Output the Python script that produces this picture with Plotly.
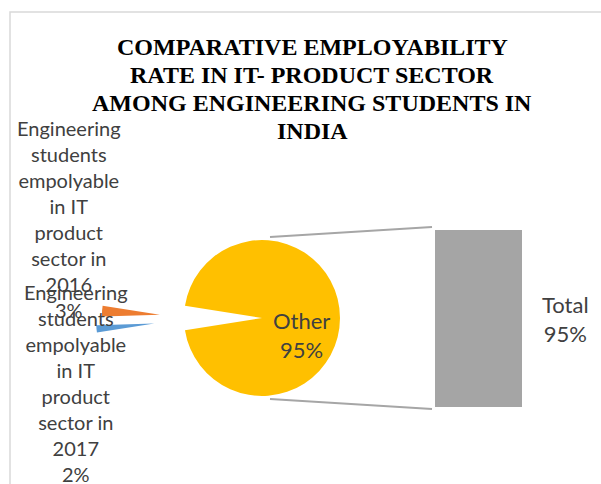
import textwrap
import plotly.graph_objects as go

# ---- data ----
categories = [
    "Engineering students empolyable in IT product sector in 2016",
    "Engineering students empolyable in IT product sector in 2017",
    "Total",
]
shares = [3, 2, 95]              # percent
pie_labels = [categories[0], categories[1], "Other"]
bar_categories = ["Total"]
bar_values = [shares[2]]

title_lines = [
    "COMPARATIVE EMPLOYABILITY",
    "RATE IN IT- PRODUCT SECTOR",
    "AMONG ENGINEERING STUDENTS IN",
    "INDIA",
]

# ---- styling ----
W, H = 601, 484
YELLOW, ORANGE, BLUE, GREY = "#FFC000", "#ED7D31", "#5B9BD5", "#A5A5A5"
TEXT = "#404040"
LABEL_FONT = "Lato, Calibri, sans-serif"


def px(x):
    return x / W


def py(y):
    return 1 - y / H


# main pie geometry (pixels)
PIE_CX, PIE_CY, PIE_R = 262, 318, 78
# detached small slices
SMALL_CX, SMALL_CY, SMALL_R = 212, 318, 58
small_pull = [0.9, 1.0]
# bar geometry
BAR_X0, BAR_X1, BAR_TOP, BAR_BOT = 435, 522, 230, 407

# the two small slices sit centred on 9 o'clock; with a counter-clockwise
# direction plotly puts the first slice clockwise of `rotation`
gap_deg = (shares[0] + shares[1]) * 3.6
rotation = 270 + gap_deg / 2 - shares[0] * 3.6

fig = go.Figure()

# main pie: the "Other" slice, the two small ones leave a gap
fig.add_trace(go.Pie(
    labels=pie_labels,
    values=shares,
    sort=False,
    direction="counterclockwise",
    rotation=rotation,
    marker=dict(colors=["rgba(0,0,0,0)", "rgba(0,0,0,0)", YELLOW],
                line=dict(width=0)),
    textinfo="none",
    hoverinfo="skip",
    domain=dict(x=[px(PIE_CX - PIE_R), px(PIE_CX + PIE_R)],
                y=[py(PIE_CY + PIE_R), py(PIE_CY - PIE_R)]),
))

# pulled-out 2016 / 2017 slices
half = SMALL_R * (1 + max(small_pull))
fig.add_trace(go.Pie(
    labels=pie_labels,
    values=shares,
    sort=False,
    direction="counterclockwise",
    rotation=rotation,
    pull=small_pull + [0],
    marker=dict(colors=[ORANGE, BLUE, "rgba(0,0,0,0)"], line=dict(width=0)),
    textinfo="none",
    hoverinfo="skip",
    domain=dict(x=[px(SMALL_CX - half), px(SMALL_CX + half)],
                y=[py(SMALL_CY + half), py(SMALL_CY - half)]),
))

# bar holding the "Total" share
fig.add_trace(go.Bar(
    x=bar_categories,
    y=bar_values,
    width=1,
    marker=dict(color=GREY, line=dict(width=0)),
    hoverinfo="skip",
    xaxis="x",
    yaxis="y",
))

fig.update_layout(
    width=W,
    height=H,
    margin=dict(l=0, r=0, t=0, b=0),
    paper_bgcolor="white",
    plot_bgcolor="white",
    showlegend=False,
    xaxis=dict(domain=[px(BAR_X0), px(BAR_X1)], range=[-0.5, 0.5],
               visible=False, fixedrange=True),
    yaxis=dict(domain=[py(BAR_BOT), py(BAR_TOP)], range=[0, bar_values[0]],
               visible=False, fixedrange=True),
)

annotations = []

# title, one annotation per line
for i, line in enumerate(title_lines):
    annotations.append(dict(
        text=f"<b>{line}</b>", x=px(312), y=py(47 + i * 28),
        xref="paper", yref="paper", xanchor="center", yanchor="middle",
        showarrow=False,
        font=dict(family="Liberation Serif, Times New Roman, serif",
                  size=24, color="black"),
    ))

# data labels of the detached slices
label_pos = [(69, 219), (76, 383)]
for name, share, (lx, ly) in zip(categories[:2], shares[:2], label_pos):
    lines = textwrap.wrap(name, width=11) + [f"{share}%"]
    annotations.append(dict(
        text="<br>".join(lines), x=px(lx), y=py(ly),
        xref="paper", yref="paper", xanchor="center", yanchor="middle",
        showarrow=False, align="center",
        font=dict(family=LABEL_FONT, size=20, color=TEXT),
    ))

# label inside the large slice
annotations.append(dict(
    text=f"{pie_labels[2]}<br>{shares[2]}%",
    x=px(301), y=py(335), xref="paper", yref="paper",
    xanchor="center", yanchor="middle", showarrow=False, align="center",
    font=dict(family=LABEL_FONT, size=22, color=TEXT),
))

# bar label
annotations.append(dict(
    text=f"{bar_categories[0]}<br>{bar_values[0]}%",
    x=px(565), y=py(319), xref="paper", yref="paper",
    xanchor="center", yanchor="middle", showarrow=False, align="center",
    font=dict(family=LABEL_FONT, size=22, color=TEXT),
))

fig.update_layout(annotations=annotations)

# connector lines from the pie to the bar, and the chart border
shapes = [
    dict(type="line", xref="paper", yref="paper",
         x0=px(PIE_CX + 8), y0=py(PIE_CY - PIE_R - 3),
         x1=px(BAR_X0 - 3), y1=py(BAR_TOP - 3),
         line=dict(color="#A6A6A6", width=2)),
    dict(type="line", xref="paper", yref="paper",
         x0=px(PIE_CX + 8), y0=py(PIE_CY + PIE_R + 3),
         x1=px(BAR_X0 - 3), y1=py(BAR_BOT + 2),
         line=dict(color="#A6A6A6", width=2)),
    dict(type="rect", xref="paper", yref="paper",
         x0=px(10), y0=-0.2, x1=1.2, y1=py(12),
         line=dict(color="#D9D9D9", width=1.5), layer="below"),
]
fig.update_layout(shapes=shapes)

fig.write_html("out.html")
